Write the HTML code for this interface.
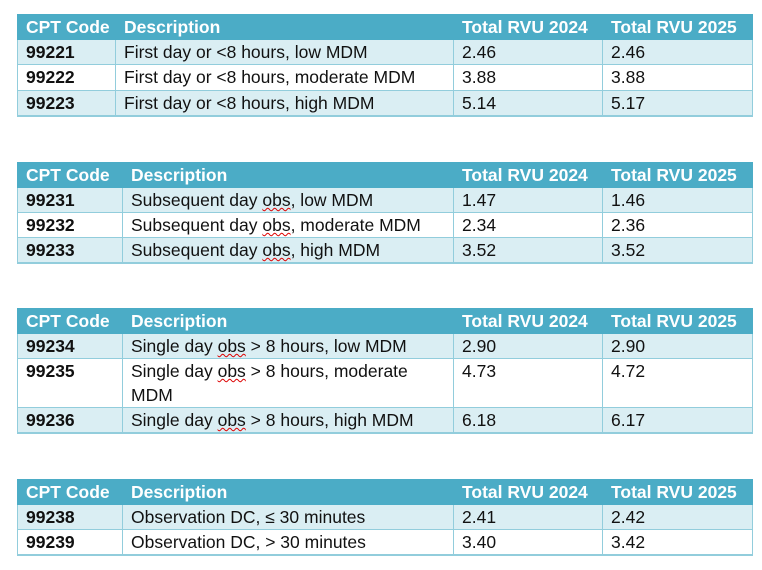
<!DOCTYPE html>
<html><head><meta charset="utf-8"><style>
body{margin:0;width:762px;height:570px;background:#fff;position:relative;font-family:"Liberation Sans",sans-serif;}
table{position:absolute;left:17px;border-collapse:collapse;table-layout:fixed;width:735px;font-size:17.5px;color:#111;}
td{border:1px solid #92cddc;padding:0 0 0 8px;vertical-align:top;line-height:24px;overflow:hidden;white-space:nowrap;}
tr.h td{background:#4bacc6;color:#fff;font-weight:bold;border-color:#4bacc6;}
tr.l td{background:#daeef3;}
tr.w td{background:#fff;}
td.c{font-weight:bold;}
table{border-bottom:2px solid #92cddc;}
.sq{text-decoration:underline wavy #d00;text-decoration-thickness:1px;}
</style></head><body>
<table style="top:14px">
<colgroup><col style="width:98px"><col style="width:338px"><col style="width:149px"><col style="width:150px"></colgroup>
<tr class="h" style="height:25px"><td>CPT Code</td><td>Description</td><td>Total RVU 2024</td><td>Total RVU 2025</td></tr>
<tr class="l" style="height:25px"><td class="c">99221</td><td>First day or &lt;8 hours, low MDM</td><td>2.46</td><td>2.46</td></tr>
<tr class="w" style="height:26px"><td class="c">99222</td><td>First day or &lt;8 hours, moderate MDM</td><td>3.88</td><td>3.88</td></tr>
<tr class="l" style="height:25px"><td class="c">99223</td><td>First day or &lt;8 hours, high MDM</td><td>5.14</td><td>5.17</td></tr>
</table>
<table style="top:162px">
<colgroup><col style="width:105px"><col style="width:331px"><col style="width:149px"><col style="width:150px"></colgroup>
<tr class="h" style="height:25px"><td>CPT Code</td><td>Description</td><td>Total RVU 2024</td><td>Total RVU 2025</td></tr>
<tr class="l" style="height:25px"><td class="c">99231</td><td>Subsequent day <span class="sq">obs</span>, low MDM</td><td>1.47</td><td>1.46</td></tr>
<tr class="w" style="height:25px"><td class="c">99232</td><td>Subsequent day <span class="sq">obs</span>, moderate MDM</td><td>2.34</td><td>2.36</td></tr>
<tr class="l" style="height:25px"><td class="c">99233</td><td>Subsequent day <span class="sq">obs</span>, high MDM</td><td>3.52</td><td>3.52</td></tr>
</table>
<table style="top:308px">
<colgroup><col style="width:105px"><col style="width:331px"><col style="width:149px"><col style="width:150px"></colgroup>
<tr class="h" style="height:25px"><td>CPT Code</td><td>Description</td><td>Total RVU 2024</td><td>Total RVU 2025</td></tr>
<tr class="l" style="height:25px"><td class="c">99234</td><td>Single day <span class="sq">obs</span> &gt; 8 hours, low MDM</td><td>2.90</td><td>2.90</td></tr>
<tr class="w" style="height:49px"><td class="c">99235</td><td>Single day <span class="sq">obs</span> &gt; 8 hours, moderate<br>MDM</td><td>4.73</td><td>4.72</td></tr>
<tr class="l" style="height:25px"><td class="c">99236</td><td>Single day <span class="sq">obs</span> &gt; 8 hours, high MDM</td><td>6.18</td><td>6.17</td></tr>
</table>
<table style="top:479px">
<colgroup><col style="width:105px"><col style="width:331px"><col style="width:149px"><col style="width:150px"></colgroup>
<tr class="h" style="height:25px"><td>CPT Code</td><td>Description</td><td>Total RVU 2024</td><td>Total RVU 2025</td></tr>
<tr class="l" style="height:25px"><td class="c">99238</td><td>Observation DC, ≤ 30 minutes</td><td>2.41</td><td>2.42</td></tr>
<tr class="w" style="height:25px"><td class="c">99239</td><td>Observation DC, &gt; 30 minutes</td><td>3.40</td><td>3.42</td></tr>
</table>
</body></html>
